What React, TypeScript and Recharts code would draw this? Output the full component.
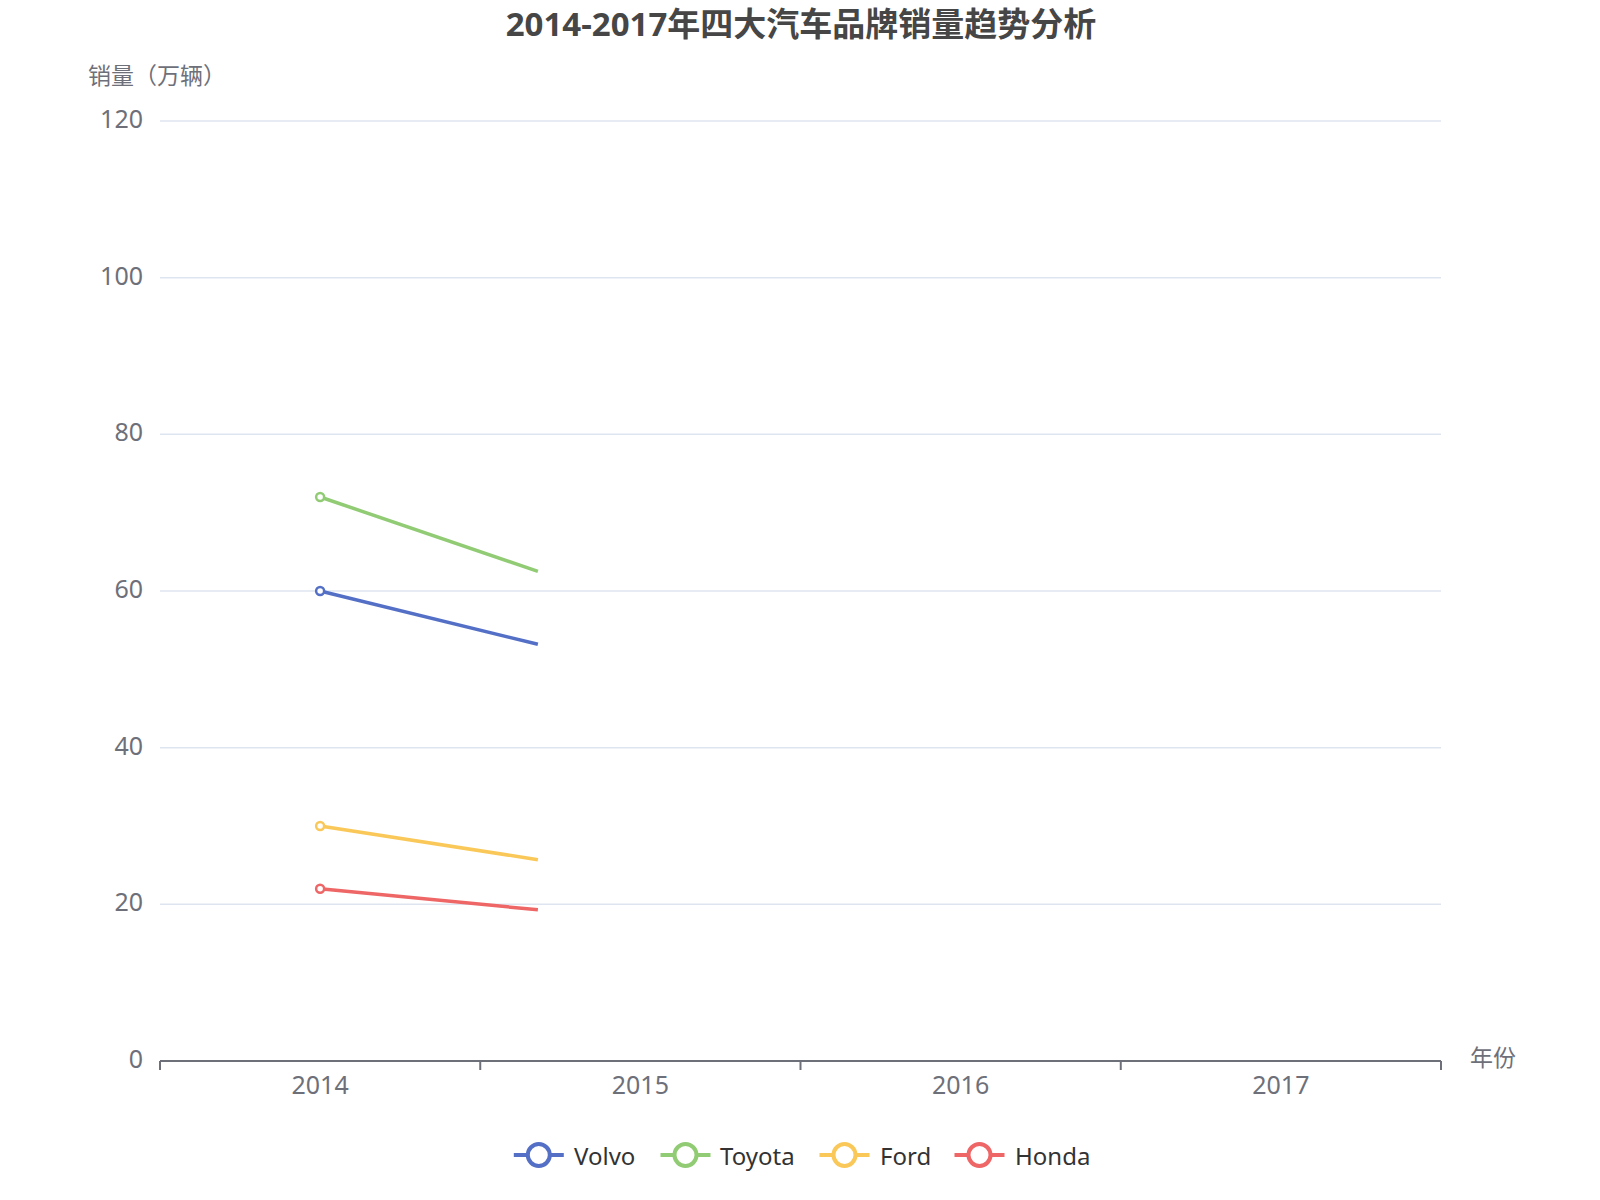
import React from 'react';
import { LineChart, Line, XAxis, YAxis, CartesianGrid } from 'recharts';

// Category labels on the x axis
const years = ['2014', '2015', '2016', '2017'];
// Drawn progress of each series along the category axis (index units), as seen in the picture
const positions = [0, 0.68];
// Series values (万辆) at those positions
const volvo = [60, 53.2];
const toyota = [72, 62.5];
const ford = [30, 25.7];
const honda = [22, 19.3];
// Y-axis tick labels
const yTicks = [0, 20, 40, 60, 80, 100, 120];

const series = [
  { key: 'Volvo', values: volvo, color: '#5470c6' },
  { key: 'Toyota', values: toyota, color: '#91cc75' },
  { key: 'Ford', values: ford, color: '#fac858' },
  { key: 'Honda', values: honda, color: '#ee6666' },
];

const data = positions.map((x, i) => {
  const row: Record<string, number> = { x };
  series.forEach((s) => {
    row[s.key] = s.values[i];
  });
  return row;
});

const catIdx = years.map((_, i) => i);
const boundaries = [-0.5, ...years.map((_, i) => i + 0.5)];

const FONT = "'Noto Sans', 'Noto Sans CJK SC', sans-serif";
const AXIS_COLOR = '#6E7079';

const legendItems = [
  { name: 'Volvo', color: '#5470c6', icon: 538.8, text: 574 },
  { name: 'Toyota', color: '#91cc75', icon: 685.5, text: 720 },
  { name: 'Ford', color: '#fac858', icon: 844.5, text: 880 },
  { name: 'Honda', color: '#ee6666', icon: 979.5, text: 1015 },
];
const LEGEND_Y = 1155;

const YTick = (props: any) => {
  const { x, y, payload } = props;
  return (
    <text x={x} y={y - 3} textAnchor="end" dominantBaseline="central" fontSize={25} fill={AXIS_COLOR} fontFamily={FONT}>
      {payload.value}
    </text>
  );
};

const EmptyTick = () => <g />;

export default function App() {
  return (
    <div style={{ position: 'absolute', left: 0, top: 0, width: 1600, height: 1200, background: '#fff', fontFamily: FONT }}>
      <LineChart
        width={1600}
        height={1200}
        data={data}
        margin={{ top: 121, right: 159, left: 100, bottom: 88 }}
      >
        <CartesianGrid xAxisId="frame" vertical={false} stroke="#DFE5F0" strokeWidth={1.5} />
        <XAxis
          xAxisId="frame"
          type="number"
          dataKey="x"
          domain={[-0.5, 3.5]}
          ticks={boundaries}
          interval={0}
          height={1}
          tick={<EmptyTick />}
          tickSize={9}
          axisLine={{ stroke: AXIS_COLOR, strokeWidth: 2 }}
          tickLine={{ stroke: AXIS_COLOR, strokeWidth: 2 }}
          allowDecimals
        />
        <XAxis
          xAxisId="labels"
          type="number"
          dataKey="x"
          domain={[-0.5, 3.5]}
          ticks={catIdx}
          interval={0}
          height={50}
          axisLine={false}
          tickLine={false}
          tickSize={0}
          tickMargin={14}
          tickFormatter={(v: number) => years[v] ?? ''}
          tick={{ fill: AXIS_COLOR, fontSize: 25, fontFamily: FONT }}
        />
        <YAxis
          type="number"
          domain={[0, 120]}
          ticks={yTicks}
          interval={0}
          width={60}
          axisLine={false}
          tickLine={false}
          tickSize={0}
          tickMargin={17}
          tick={<YTick />}
        />
        {series.map((s) => (
          <Line
            key={s.key}
            xAxisId="frame"
            type="monotone"
            dataKey={s.key}
            stroke={s.color}
            strokeWidth={3.5}
            isAnimationActive={false}
            activeDot={false}
            dot={(props: any) =>
              props.index === 0 ? (
                <circle
                  key={`${s.key}-dot-${props.index}`}
                  cx={props.cx}
                  cy={props.cy}
                  r={4}
                  fill="#fff"
                  stroke={s.color}
                  strokeWidth={2.5}
                />
              ) : (
                <g key={`${s.key}-dot-${props.index}`} />
              )
            }
          />
        ))}
      </LineChart>
      <svg
        width={1600}
        height={1200}
        style={{ position: 'absolute', left: 0, top: 0, pointerEvents: 'none' }}
      >
        <text x={801} y={23} textAnchor="middle" dominantBaseline="central" fontSize={33} fontWeight="bold" fill="#464646" fontFamily={FONT}>
          2014-2017年四大汽车品牌销量趋势分析
        </text>
        <text x={88} y={75} textAnchor="start" dominantBaseline="central" fontSize={23} fill={AXIS_COLOR} fontFamily={FONT}>
          销量（万辆）
        </text>
        <text x={1470} y={1057} textAnchor="start" dominantBaseline="central" fontSize={23} fill={AXIS_COLOR} fontFamily={FONT}>
          年份
        </text>
        {legendItems.map((it) => (
          <g key={it.name}>
            <line x1={it.icon - 25} x2={it.icon + 25} y1={LEGEND_Y} y2={LEGEND_Y} stroke={it.color} strokeWidth={4} />
            <circle cx={it.icon} cy={LEGEND_Y} r={11} fill="#fff" stroke={it.color} strokeWidth={4} />
            <text x={it.text} y={LEGEND_Y} dominantBaseline="central" fontSize={24} fill="#333" fontFamily={FONT}>
              {it.name}
            </text>
          </g>
        ))}
      </svg>
    </div>
  );
}
